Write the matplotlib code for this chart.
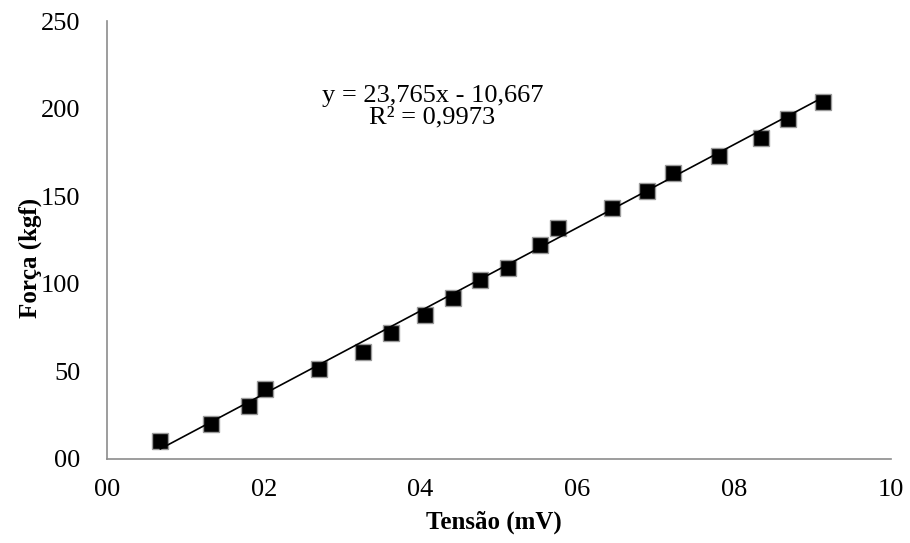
import matplotlib
matplotlib.use("Agg")
import matplotlib.pyplot as plt
import numpy as np

# dados
tensao = [0.68, 1.33, 1.81, 2.02, 2.70, 3.27, 3.62, 4.06, 4.41, 4.76,
          5.12, 5.52, 5.75, 6.44, 6.89, 7.22, 7.80, 8.34, 8.69, 9.13]
forca = [10, 20, 30, 40, 51, 61, 72, 82, 92, 102,
         109, 122, 132, 143, 153, 163, 173, 183, 194, 204]

# linha de tendência (Excel)
coef_a = 23.765
coef_b = -10.667
eq_texto = "y = 23,765x - 10,667\nR² = 0,9973"

xticks = [0, 2, 4, 6, 8, 10]
xtick_labels = ["00", "02", "04", "06", "08", "10"]
yticks = [0, 50, 100, 150, 200, 250]
ytick_labels = ["00", "50", "100", "150", "200", "250"]

plt.rcParams["font.family"] = ["Liberation Serif", "DejaVu Serif"]

fig = plt.figure(figsize=(9.1, 5.43), dpi=100)
ax = fig.add_axes([0.1176, 0.1556, 0.8615, 0.8057])

x = np.array(tensao)
ax.plot(x, forca, linestyle="none", marker="s", markersize=11,
        markerfacecolor="black", markeredgecolor="#9a9a9a", markeredgewidth=1.0, zorder=2)
xl = np.array([x.min(), x.max()])
ax.plot(xl, coef_a * xl + coef_b, color="black", linewidth=1.2, zorder=3)

ax.text(4.15, 201, eq_texto, ha="center", va="center", fontsize=19, linespacing=1.0)

ax.set_xlim(0, 10)
ax.set_ylim(0, 250)
ax.set_xticks(xticks)
ax.set_xticklabels(xtick_labels)
ax.set_yticks(yticks)
ax.set_yticklabels(ytick_labels)
ax.tick_params(axis="both", length=0, labelsize=19, colors="black")
ax.tick_params(axis="x", pad=15)
ax.tick_params(axis="y", pad=19)

for s in ["top", "right"]:
    ax.spines[s].set_visible(False)
for s in ["left", "bottom"]:
    ax.spines[s].set_color("#8c8c8c")
    ax.spines[s].set_linewidth(1.2)

ax.set_xlabel("Tensão (mV)", fontsize=18, fontweight="bold")
ax.set_ylabel("Força (kgf)", fontsize=18, fontweight="bold")
ax.xaxis.set_label_coords(0.494, -0.12)
ax.yaxis.set_label_coords(-0.083, 0.458)

fig.savefig("out.png", dpi=100)
